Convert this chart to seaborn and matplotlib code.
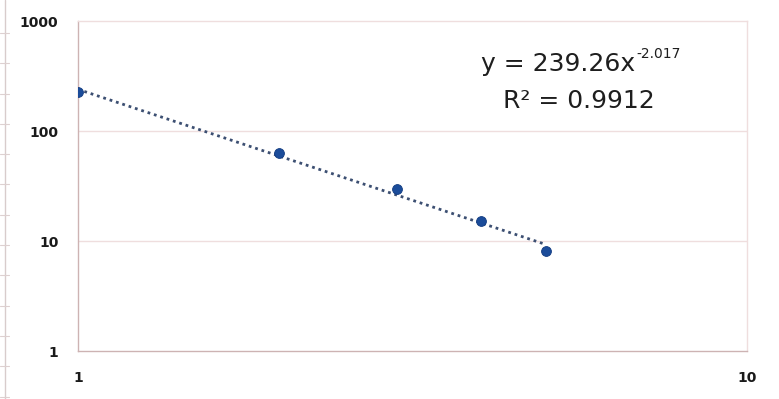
import matplotlib
matplotlib.use("Agg")
import matplotlib.pyplot as plt
from matplotlib.lines import Line2D
import numpy as np
import pandas as pd
import seaborn as sns

# Measured values (log-log)
x_vals = [1, 2, 3, 4, 5]
y_vals = [226, 63.5, 30, 15.3, 8.1]

# Power-law trendline parameters
coef_a = 239.26
coef_b = -2.017
r_squared = 0.9912

x_ticks = [1, 10]
y_ticks = [1, 10, 100, 1000]

sns.set_theme(style="white")
plt.rcParams["font.family"] = ["DejaVu Sans"]
plt.rcParams["axes.unicode_minus"] = False

fig = plt.figure(figsize=(7.79, 3.99), dpi=100)
ax = fig.add_axes([0.1001, 0.1203, 0.8589, 0.8270])

points = pd.DataFrame({"x": x_vals, "y": y_vals})
trend_x = np.linspace(min(x_vals), max(x_vals), 100)
trend = pd.DataFrame({"x": trend_x, "y": coef_a * trend_x ** coef_b})

ax.set_xscale("log")
ax.set_yscale("log")

sns.lineplot(data=trend, x="x", y="y", ax=ax, color="#3c4f72",
             linewidth=2.0, linestyle=(0, (1, 1.4)), zorder=3)
sns.scatterplot(data=points, x="x", y="y", ax=ax, color="#1b4c9a",
                s=50, edgecolor="#123b80", linewidth=0.6, zorder=4)

ax.set_xlim(1, 10)
ax.set_ylim(1, 1000)
ax.set_xticks(x_ticks)
ax.set_xticklabels([str(v) for v in x_ticks])
ax.set_yticks(y_ticks)
ax.set_yticklabels([str(v) for v in y_ticks])
ax.minorticks_off()
ax.tick_params(axis="both", length=0, labelsize=10, colors="#1a1a1a")
ax.tick_params(axis="y", pad=14)
ax.tick_params(axis="x", pad=14.5)
for lbl in ax.get_xticklabels() + ax.get_yticklabels():
    lbl.set_fontweight("bold")

ax.set_xlabel("")
ax.set_ylabel("")

# horizontal gridlines only
for yv in y_ticks[1:-1]:
    ax.axhline(yv, color="#efdede", linewidth=1.0, zorder=1)

for side, spine in ax.spines.items():
    spine.set_visible(True)
    spine.set_linewidth(1.0)
    spine.set_color("#efdede")
ax.spines["left"].set_color("#cdb3b3")
ax.spines["bottom"].set_color("#cdb3b3")

# trendline equation and fit quality
eq_x = 0.8326
ax.text(eq_x, 0.870, "y = 239.26x", transform=ax.transAxes,
        ha="right", va="center", fontsize=18, color="#1e1e1e")
ax.text(eq_x + 0.002, 0.899, f"{coef_b}", transform=ax.transAxes,
        ha="left", va="center", fontsize=10, color="#1e1e1e")
ax.text(0.749, 0.758, f"R\u00b2 = {r_squared}", transform=ax.transAxes,
        ha="center", va="center", fontsize=18, color="#1e1e1e")

# faint sheet edge at the far left
fig.add_artist(Line2D([0.0065, 0.0065], [0.0, 1.0], transform=fig.transFigure,
                      color="#d8cccc", linewidth=1.0))
for yp in np.arange(33, 399, 30.3):
    yf = 1 - yp / 399
    fig.add_artist(Line2D([0.0, 0.0115], [yf, yf], transform=fig.transFigure,
                          color="#ddd0d0", linewidth=0.8))

fig.savefig("out.png", dpi=100, facecolor="white")
